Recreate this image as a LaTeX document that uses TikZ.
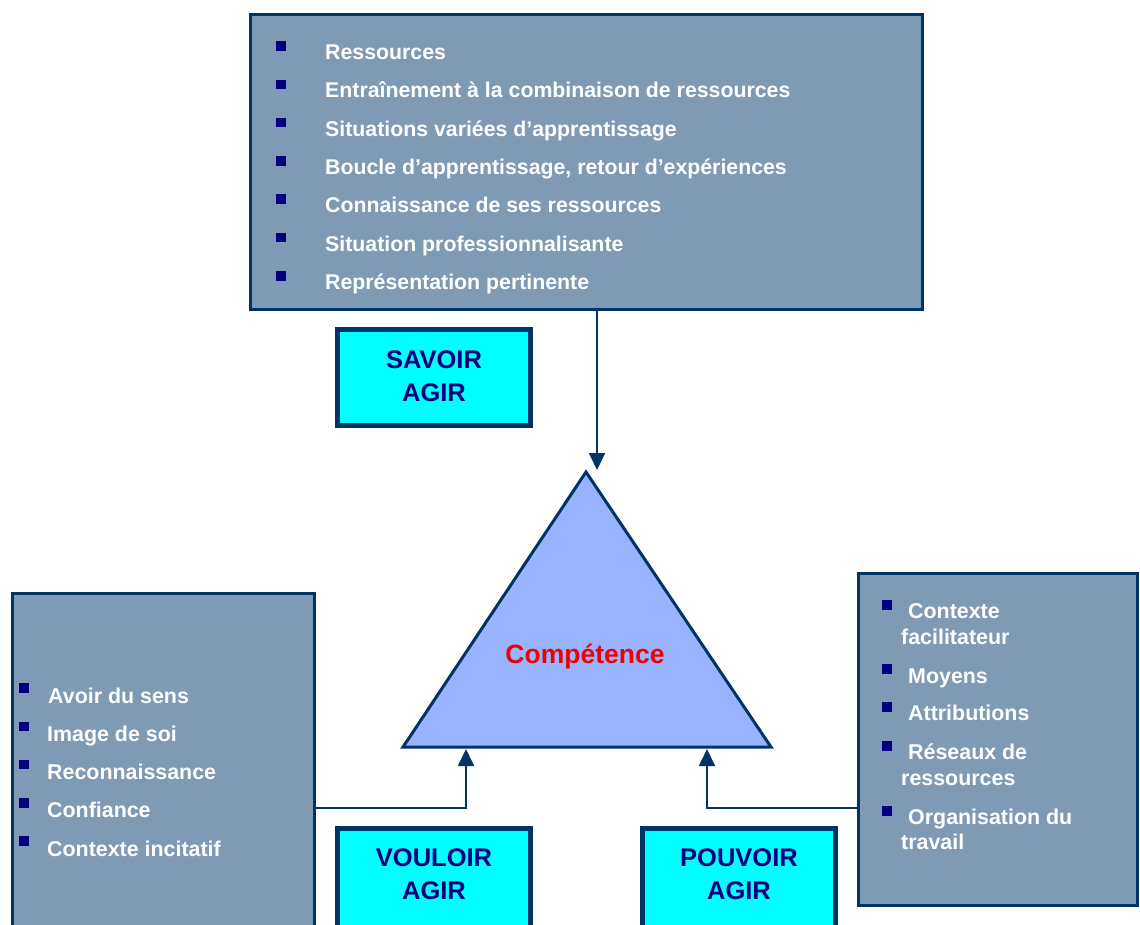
\documentclass[tikz,border=0pt]{standalone}
\usepackage{fontspec}
\setmainfont{Liberation Sans}
\usetikzlibrary{arrows.meta}
\definecolor{navy}{RGB}{0,51,102}
\definecolor{boxfill}{RGB}{127,154,180}
\definecolor{trifill}{RGB}{153,179,255}
\definecolor{darkblue}{RGB}{0,0,128}
\definecolor{cyanfill}{RGB}{0,255,255}
\definecolor{redtxt}{RGB}{240,0,0}
\begin{document}
\begin{tikzpicture}[x=1pt,y=-1pt,
  panel/.style={draw=navy, line width=3.5pt, fill=boxfill, rectangle, inner sep=0pt},
  cyanbox/.style={draw=navy, line width=5pt, fill=cyanfill, rectangle, inner sep=0pt},
  cyantext/.style={text=darkblue, font=\fontsize{25.5}{33}\selectfont\bfseries, align=center, inner sep=0pt},
  bul/.style={fill=darkblue, rectangle, minimum size=9.5pt, inner sep=0pt},
  topitem/.style={text=white, anchor=base west, inner sep=0pt, font=\fontsize{21.3}{24}\selectfont\bfseries},
  sideitem/.style={text=white, anchor=base west, inner sep=0pt, font=\fontsize{21.4}{26}\selectfont\bfseries},
  conn/.style={draw=navy, line width=1.8pt, -{Triangle[length=17pt,width=16pt]}}
]
\useasboundingbox (0,0) rectangle (1140,924);

% top panel
\node[panel, minimum width=672pt, minimum height=295pt] (top) at (586.5,162) {};
\foreach \i/\t in {0/Ressources,
  1/Entraînement à la combinaison de ressources,
  2/Situations variées d’apprentissage,
  3/{Boucle d’apprentissage, retour d’expériences},
  4/Connaissance de ses ressources,
  5/Situation professionnalisante,
  6/Représentation pertinente}{
  \node[bul] (tb\i) at (281,46+38.3*\i) {};
  \node[topitem] (tt\i) at (325,59.5+38.3*\i) {\t};
}

% savoir agir
\node[cyanbox, minimum width=193pt, minimum height=96pt] (savbox) at (434,377.5) {};
\node[cyantext] (savtxt) at (434,376.5) {SAVOIR\\AGIR};

% triangle
\coordinate (apex) at (586,472);
\coordinate (bl) at (403,747);
\coordinate (br) at (771,747);
\draw[navy, line width=3pt, fill=trifill, line join=miter] (apex) -- (br) -- (bl) -- cycle;
\node[text=redtxt, font=\fontsize{26.5}{30}\selectfont\bfseries, inner sep=0pt] (comp) at (585,657) {Compétence};

% left panel
\node[panel, minimum width=302pt, minimum height=366.5pt] (left) at (163.5,776.75) {};
\foreach \i in {0,...,4}{
  \node[bul] (lb\i) at (24,688+38.3*\i) {};
}
\node[sideitem] (lt0) at (48,703) {Avoir du sens};
\node[sideitem] (lt1) at (47,741.3) {Image de soi};
\node[sideitem] (lt2) at (47,779.6) {Reconnaissance};
\node[sideitem] (lt3) at (47,817.9) {Confiance};
\node[sideitem] (lt4) at (47,856.2) {Contexte incitatif};

% right panel
\node[panel, minimum width=279pt, minimum height=332pt] (right) at (998,739.5) {};
\node[bul] (rb0) at (887,605) {};
\node[bul] (rb1) at (887,669) {};
\node[bul] (rb2) at (887,707) {};
\node[bul] (rb3) at (887,746) {};
\node[bul] (rb4) at (887,811) {};
\node[sideitem] (rt0a) at (908,618.5) {Contexte};
\node[sideitem] (rt0b) at (901,644.5) {facilitateur};
\node[sideitem] (rt1) at (908,683.5) {Moyens};
\node[sideitem] (rt2) at (908,720.5) {Attributions};
\node[sideitem] (rt3a) at (908,759.5) {Réseaux de};
\node[sideitem] (rt3b) at (901,785.5) {ressources};
\node[sideitem] (rt4a) at (908,824.5) {Organisation du};
\node[sideitem] (rt4b) at (901,849.5) {travail};

% bottom cyan boxes
\node[cyanbox, minimum width=193pt, minimum height=131.5pt] (voubox) at (434,894.25) {};
\node[cyantext] (voutxt) at (434,874.5) {VOULOIR\\AGIR};
\node[cyanbox, minimum width=193pt, minimum height=131.5pt] (poubox) at (739,894.25) {};
\node[cyantext] (poutxt) at (739,874.5) {POUVOIR\\AGIR};

% connectors
\coordinate (ta) at (597,470);
\draw[conn] (top.south -| ta) -- (ta);
\coordinate (lj) at (466,808);
\coordinate (le) at (466,749);
\draw[conn] (left.east |- lj) -- (lj) -- (le);
\coordinate (rj) at (707,808);
\coordinate (re) at (707,749);
\draw[conn] (right.west |- rj) -- (rj) -- (re);
\end{tikzpicture}
\end{document}
